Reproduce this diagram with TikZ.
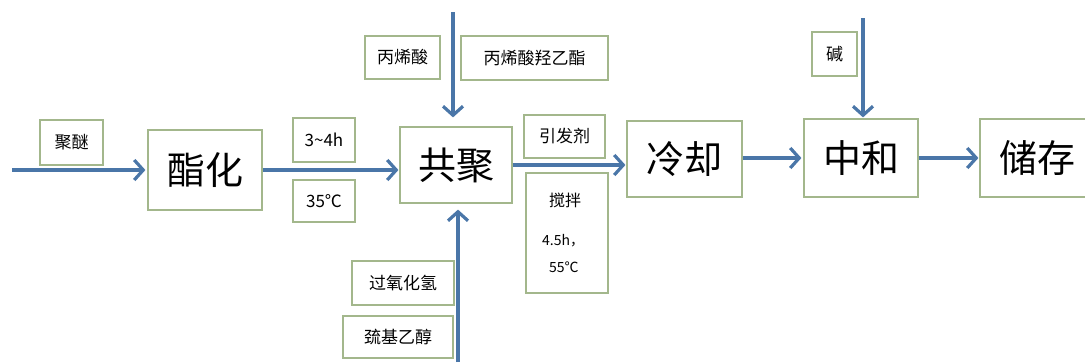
\documentclass[tikz,border=0pt]{standalone}
\usepackage{fontspec}
\setmainfont{Noto Sans CJK SC}
\usetikzlibrary{arrows.meta}
\definecolor{arrc}{HTML}{4A76A8}
\definecolor{boxc}{HTML}{A3B78C}
\tikzset{
  pbox/.style={draw=boxc, line width=1.2pt, fill=white, inner sep=0pt, font=\fontsize{38}{40}\selectfont},
  lbox/.style={draw=boxc, line width=1.1pt, fill=white, inner sep=0pt, font=\fontsize{17}{19}\selectfont},
  arr/.style={draw=arrc, line width=3.6pt, -{Straight Barb[length=9pt,width=20pt,line width=3.2pt]}},
}
\begin{document}
\begin{tikzpicture}[x=1pt,y=-1pt]
\useasboundingbox (0,0) rectangle (1085,362);
% process boxes
\node[pbox, minimum width=114pt, minimum height=80pt] (zh) at (205,170) {酯化};
\node[pbox, minimum width=112pt, minimum height=76pt] (gj) at (456,165) {共聚};
\node[pbox, minimum width=115pt, minimum height=76pt] (lq) at (684.5,159) {冷却};
\node[pbox, minimum width=114pt, minimum height=78pt] (zhe) at (861,158) {中和};
\node[pbox, minimum width=115pt, minimum height=78pt] (cc) at (1037.5,158) {储存};
% label boxes
\node[lbox, minimum width=63pt, minimum height=45pt] (ju) at (71.5,142.5) {聚醚};
\node[lbox, minimum width=62pt, minimum height=44pt] (t34) at (324,140) {3\textasciitilde4h};
\node[lbox, minimum width=62pt, minimum height=42pt] (t35) at (324,201) {35℃};
\node[lbox, minimum width=75pt, minimum height=43pt] (bxs) at (402.5,57.5) {丙烯酸};
\node[lbox, minimum width=147pt, minimum height=44pt] (bxsy) at (534.5,58) {丙烯酸羟乙酯};
\node[lbox, minimum width=81pt, minimum height=43pt] (yfj) at (564.5,136.5) {引发剂};
\node[lbox, minimum width=82pt, minimum height=120pt] (jb) at (567,233) {};
\node[font=\fontsize{16}{18}\selectfont, anchor=west, inner sep=0pt] (jb1) at (549,200) {搅拌};
\node[font=\fontsize{14}{16}\selectfont, anchor=west, inner sep=0pt] (jb2) at (542,241) {4.5h，};
\node[font=\fontsize{14}{16}\selectfont, anchor=west, inner sep=0pt] (jb3) at (549,267) {55℃};
\node[lbox, minimum width=102pt, minimum height=44pt] (gy) at (403,283) {过氧化氢};
\node[lbox, minimum width=110pt, minimum height=42pt] (qj) at (398,337) {巯基乙醇};
\node[lbox, minimum width=45pt, minimum height=44pt] (jian) at (834.5,54) {碱};
% free ends
\coordinate (inL) at (12,170);
\coordinate (inT) at (453,12);
\coordinate (inB) at (458,362);
\coordinate (inJ) at (863,18);
% connectors
\draw[arr, shorten >=2pt] (inL) -- (zh.west);
\draw[arr, shorten >=1pt] (zh.east) -- (zh.east -| gj.west);
\draw[arr, shorten >=1pt] (gj.east) -- (gj.east -| lq.west);
\draw[arr, shorten >=2pt] (lq.east |- zhe.west) -- (zhe.west);
\draw[arr, shorten >=1pt] (zhe.east) -- (cc.west);
\draw[arr, shorten >=9pt] (inT) -- (inT |- gj.north);
\draw[arr, shorten >=6pt] (inB) -- (inB |- gj.south);
\draw[arr, shorten >=1pt] (inJ) -- (inJ |- zhe.north);
\end{tikzpicture}
\end{document}
